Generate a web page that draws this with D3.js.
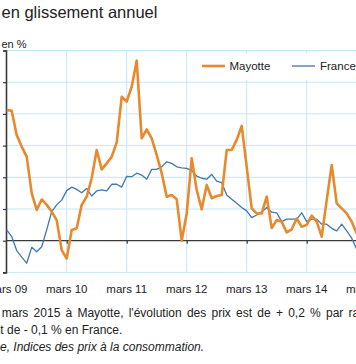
<!DOCTYPE html>
<html><head><meta charset="utf-8">
<script src="https://cdn.jsdelivr.net/npm/d3@7"></script>
<style>
html,body{margin:0;padding:0;background:#fff;overflow:hidden}
text{font-family:"Liberation Sans",Arial,sans-serif;fill:#222}
</style></head><body>
<script>
// Monthly year-on-year change, from March 2009 to March 2015
const startMonth = "2009-03";
const mayotte = [4.12,4.1,3.33,2.97,2.65,1.5,0.97,1.3,1.13,0.92,0.65,-0.3,
  -0.56,0.34,0.39,1.13,1.39,1.97,2.86,2.25,2.44,2.65,3.1,4.54,
  4.39,4.86,5.68,3.23,3.51,3.23,2.7,2.13,1.39,1.44,1.31,0.0,
  0.86,2.6,1.6,0.99,1.76,1.34,1.41,1.44,2.86,2.86,3.18,3.62,
  2.33,1.02,0.86,0.86,1.39,0.4,0.65,0.6,0.26,0.36,0.7,0.44,
  0.5,0.79,0.6,0.13,1.28,2.39,1.18,1.02,0.86,0.6,0.23,0.1,
  0.2];
const france = [0.34,0.13,-0.31,-0.52,-0.71,-0.21,-0.35,-0.19,0.34,0.92,1.13,1.28,
  1.58,1.69,1.62,1.51,1.65,1.41,1.57,1.6,1.57,1.78,1.78,1.69,
  2.03,2.02,2.13,2.07,1.94,2.25,2.25,2.33,2.49,2.44,2.33,2.3,
  2.28,2.21,2.04,1.97,1.94,2.09,1.88,1.83,1.44,1.31,1.18,1.05,
  0.94,0.73,0.81,0.9,1.05,0.9,0.88,0.6,0.68,0.68,0.68,0.88,
  0.6,0.68,0.68,0.52,0.52,0.39,0.31,0.52,0.31,0.08,-0.27,-0.3,
  -0.1];
const xTickLabels = ["mars 09","mars 10","mars 11","mars 12","mars 13","mars 14","mars 15"];
const yTicks = [-1,0,1,2,3,4,5,6];
const seriesNames = ["Mayotte","France"];
const title = "en glissement annuel";
const unit = "en %";
const notes = [
  {text:"En mars 2015 à Mayotte, l'évolution des prix est de + 0,2 % par rapport à mars 2014.", skip:3, italic:false},
  {text:"Elle est de - 0,1 % en France.", skip:7, italic:false},
  {text:"Source : Insee, Indices des prix à la consommation.", skip:13, italic:true}
];

const W = 356, H = 364;
const svg = d3.select("body").append("svg").attr("width", W).attr("height", H);

const x = d3.scaleLinear().domain([0, 72]).range([6.7, 366.7]);
const y = d3.scaleLinear().domain([-1, 6]).range([272.4, 50.5]);
const colors = {Mayotte:"#E8892B", France:"#3F78B0"};
const grid = "#c4e7f5";

// horizontal gridlines
svg.append("g").selectAll("line").data(yTicks.filter(d => d !== 0)).join("line")
  .attr("x1", 6).attr("x2", W).attr("y1", d => y(d)).attr("y2", d => y(d))
  .attr("stroke", grid).attr("stroke-width", 1);
// vertical gridlines (yearly)
const yearIdx = xTickLabels.map((d, i) => i * 12);
svg.append("g").selectAll("line").data(yearIdx.slice(1)).join("line")
  .attr("x1", d => x(d)).attr("x2", d => x(d)).attr("y1", y(6)).attr("y2", y(-1))
  .attr("stroke", grid).attr("stroke-width", 1);

// legend background (white box hiding gridlines)
svg.append("rect").attr("x", 190).attr("y", 53.5).attr("width", W - 190).attr("height", 26.5).attr("fill", "#fff");

// y axis
const yAxis = d3.axisLeft(y).tickValues(yTicks).tickSize(3).tickFormat("");
const gy = svg.append("g").attr("transform", "translate(6,0)").call(yAxis);
gy.select(".domain").attr("stroke", "#3a3a3a").attr("stroke-width", 1.6);
gy.selectAll(".tick line").attr("stroke", "#3a3a3a").attr("stroke-width", 1.2);

// zero axis with yearly ticks
const xAxis = d3.axisBottom(x).tickValues(yearIdx.slice(1)).tickSize(3).tickSizeOuter(0).tickFormat("");
const gx = svg.append("g").attr("transform", `translate(0,${y(0)})`).call(xAxis);
gx.select(".domain").attr("d", `M6,0H${W}`).attr("stroke", "#3a3a3a").attr("stroke-width", 1.3);
gx.selectAll(".tick line").attr("stroke", "#3a3a3a").attr("stroke-width", 1.2);

// x labels
svg.append("g").selectAll("text").data(xTickLabels).join("text")
  .attr("x", (d, i) => x(yearIdx[i])).attr("y", 293)
  .attr("text-anchor", "middle").attr("font-size", "11.5px").text(d => d);

// lines
const line = d3.line().x((d, i) => x(i)).y(d => y(d));
svg.append("path").datum(france).attr("d", line).attr("fill", "none")
  .attr("stroke", colors.France).attr("stroke-width", 1.3).attr("stroke-linejoin", "round");
svg.append("path").datum(mayotte).attr("d", line).attr("fill", "none")
  .attr("stroke", colors.Mayotte).attr("stroke-width", 2.6).attr("stroke-linejoin", "round");

// legend
const leg = [{name: seriesNames[0], x1: 202, x2: 225, tx: 229.5, w: 2.6},
             {name: seriesNames[1], x1: 292, x2: 315, tx: 320, w: 1.3}];
leg.forEach(l => {
  svg.append("line").attr("x1", l.x1).attr("x2", l.x2).attr("y1", 66).attr("y2", 66)
    .attr("stroke", colors[l.name]).attr("stroke-width", l.w);
  svg.append("text").attr("x", l.tx).attr("y", 70).attr("font-size", "11.5px").text(l.name);
});

// title & unit
svg.append("text").attr("x", 1.5).attr("y", 17.5).attr("font-size", "16.5px").attr("fill", "#333").text(title);
svg.append("text").attr("x", 1.5).attr("y", 47.5).attr("font-size", "11px").text(unit);

// notes (left part cropped in the reference); first line is justified
const noteX = [1.7, 0.3, 0];
const noteY = [316.5, 333.5, 350.5];
notes.forEach((n, i) => {
  const t = svg.append("text").attr("x", 0).attr("y", noteY[i]).attr("font-size", "12px")
    .attr("font-style", n.italic ? "italic" : "normal").text(n.text);
  if (i === 0) {
    const node = t.node();
    const parIdx = n.text.indexOf("par ");
    const span = node.getStartPositionOfChar(parIdx).x - node.getStartPositionOfChar(n.skip).x;
    const nSpaces = n.text.slice(n.skip, parIdx).split(" ").length - 1;
    const ws = (326 - noteX[0] - span) / nSpaces;
    t.attr("word-spacing", ws.toFixed(2) + "px");
  }
  const off = t.node().getStartPositionOfChar(n.skip).x;
  t.attr("x", noteX[i] - off);
});
</script>
</body></html>
